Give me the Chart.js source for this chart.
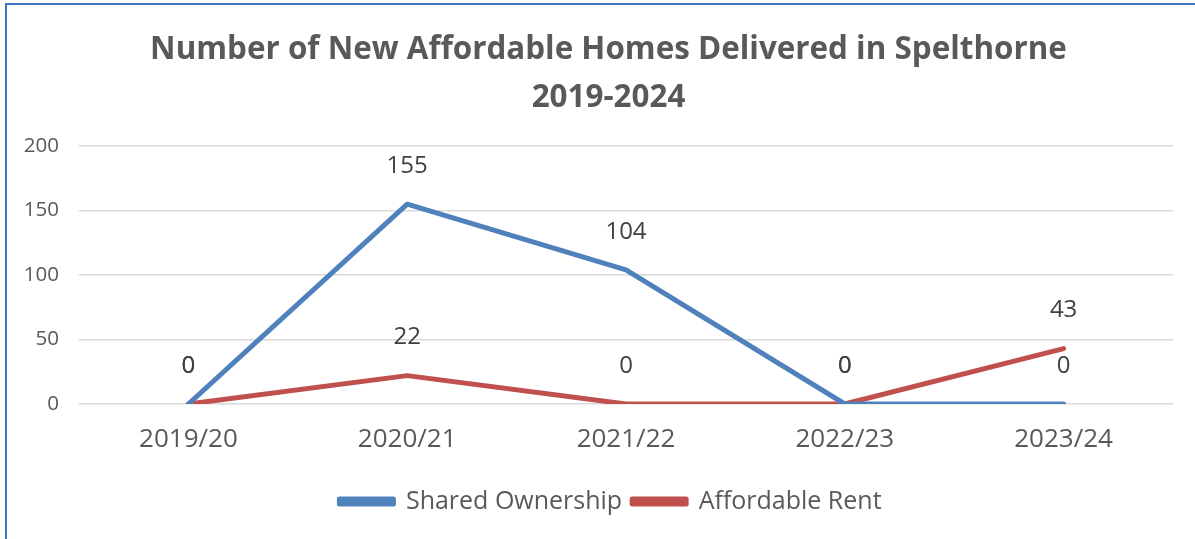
<!DOCTYPE html>
<html>
<head>
<meta charset="utf-8">
<script src="https://cdn.jsdelivr.net/npm/chart.js@4.4.0/dist/chart.umd.min.js"></script>
<style>
  body { margin: 0; background: #fff; }
  #frame { position: absolute; left: 5px; top: 3px; width: 1190px; height: 536px;
           border-left: 2px solid #4472C4; border-top: 2px solid #4472C4; }
  #wrap { position: absolute; left: 0; top: 0; width: 1195px; height: 539px; }
</style>
</head>
<body>
<div id="frame"></div>
<div id="wrap"><canvas id="chart" width="1195" height="539"></canvas></div>
<script>
const years = ["2019/20", "2020/21", "2021/22", "2022/23", "2023/24"];
const sharedOwnership = [0, 155, 104, 0, 0];
const affordableRent = [0, 22, 0, 0, 43];
const yTicks = [0, 50, 100, 150, 200];
const titleLines = ["Number of New Affordable Homes Delivered in Spelthorne", "2019-2024"];

const FONT = "'Open Sans', 'Noto Sans', sans-serif";

// value labels drawn above each point
const pointLabels = {
    id: 'pointLabels',
    afterDatasetsDraw(chart) {
        const ctx = chart.ctx;
        ctx.save();
        ctx.font = "24px " + FONT;
        ctx.fillStyle = "#404040";
        ctx.textAlign = "center";
        ctx.textBaseline = "middle";
        chart.data.datasets.forEach((ds, i) => {
            chart.getDatasetMeta(i).data.forEach((pt, j) => {
                ctx.fillText(String(ds.data[j]), pt.x, pt.y - 38);
            });
        });
        ctx.restore();
    }
};

// title and legend in the original sit a little right of the canvas centre
const nudge = {
    id: 'nudge',
    afterLayout(chart) {
        chart.titleBlock.right += 34;
        chart.legend.right += 38;
    }
};

new Chart(document.getElementById('chart'), {
    type: 'line',
    data: {
        labels: years,
        datasets: [
            { label: "Shared Ownership", data: sharedOwnership, borderColor: "#4F81BD", backgroundColor: "#4F81BD" },
            { label: "Affordable Rent", data: affordableRent, borderColor: "#C0504D", backgroundColor: "#C0504D" }
        ]
    },
    options: {
        responsive: false,
        animation: false,
        layout: { padding: { left: 10, right: 22, top: 0, bottom: 15 } },
        elements: {
            line: { borderWidth: 5, tension: 0, borderCapStyle: 'round', borderJoinStyle: 'round' },
            point: { radius: 0, hoverRadius: 0 }
        },
        scales: {
            x: {
                offset: true,
                afterFit: (scale) => { scale.height = 75; },
                grid: { display: false, drawTicks: false },
                border: { display: false },
                ticks: { padding: 20, color: "#595959", font: { family: FONT, size: 26 } }
            },
            y: {
                min: 0,
                max: 200,
                afterBuildTicks: (scale) => { scale.ticks = yTicks.map(v => ({ value: v })); },
                afterFit: (scale) => { scale.width = 69; },
                grid: { color: "#d9d9d9", lineWidth: 1.5, drawTicks: false },
                border: { display: false },
                ticks: { padding: 20, color: "#595959", font: { family: FONT, size: 20.5 } }
            }
        },
        plugins: {
            title: {
                display: true,
                text: titleLines,
                color: "#595959",
                font: { family: FONT, size: 31.4, weight: 'bold', lineHeight: 1.5 },
                padding: { top: 27, bottom: 25 }
            },
            legend: {
                position: 'bottom',
                labels: {
                    boxWidth: 54,
                    boxHeight: 5,
                    padding: 10,
                    color: "#595959",
                    font: { family: FONT, size: 25 }
                }
            },
            tooltip: { enabled: false }
        }
    },
    plugins: [pointLabels, nudge]
});
</script>
</body>
</html>
